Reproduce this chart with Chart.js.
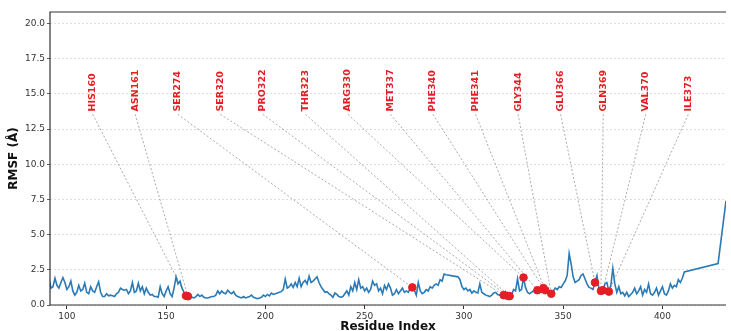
<!DOCTYPE html>
<html>
<head>
<meta charset="utf-8">
<script src="https://cdn.jsdelivr.net/npm/chart.js@4.4.1/dist/chart.umd.min.js"></script>
<style>
  html, body { margin: 0; padding: 0; background: #fff; overflow: hidden; }
  canvas { display: block; }
</style>
</head>
<body>
<canvas id="rmsfChart" width="731" height="338"></canvas>
<script>
// residue numbers (gaps at 292-296 and 412-427 are missing in the trace)
const residues = [
  91,92,93,94,95,96,97,98,99,100,101,102,103,104,105,106,107,108,109,110,
  111,112,113,114,115,116,117,118,119,120,121,122,123,124,125,126,127,128,129,130,
  131,132,133,134,135,136,137,138,139,140,141,142,143,144,145,146,147,148,149,150,
  151,152,153,154,155,156,157,158,159,160,161,162,163,164,165,166,167,168,169,170,
  171,172,173,174,175,176,177,178,179,180,181,182,183,184,185,186,187,188,189,190,
  191,192,193,194,195,196,197,198,199,200,201,202,203,204,205,206,207,208,209,210,
  211,212,213,214,215,216,217,218,219,220,221,222,223,224,225,226,227,228,229,230,
  231,232,233,234,235,236,237,238,239,240,241,242,243,244,245,246,247,248,249,250,
  251,252,253,254,255,256,257,258,259,260,261,262,263,264,265,266,267,268,269,270,
  271,272,273,274,275,276,277,278,279,280,281,282,283,284,285,286,287,288,289,290,
  291,297,298,299,300,301,302,303,304,305,306,307,308,309,310,
  311,312,313,314,315,316,317,318,319,320,321,322,323,324,325,326,327,328,329,330,
  331,332,333,334,335,336,337,338,339,340,341,342,343,344,345,346,347,348,349,350,
  351,352,353,354,355,356,357,358,359,360,361,362,363,364,365,366,367,368,369,370,
  371,372,373,374,375,376,377,378,379,380,381,382,383,384,385,386,387,388,389,390,
  391,392,393,394,395,396,397,398,399,400,401,402,403,404,405,406,407,408,409,410,
  411,428,432
];

const rmsf = [
  1.9,1.2,1.3,1.9,1.4,1.2,1.6,1.95,1.6,1.1, 1.3,1.7,1.0,0.7,0.9,1.4,1.0,1.1,1.55,0.9,
  0.8,1.3,1.0,0.9,1.3,1.65,0.9,0.6,0.6,0.8, 0.65,0.7,0.65,0.6,0.8,0.9,1.2,1.1,1.05,1.1,
  0.8,1.0,1.6,0.9,1.0,1.55,1.0,1.3,0.8,1.2, 0.9,0.7,0.75,0.6,0.6,0.55,1.3,0.8,0.6,1.0,
  1.3,0.8,0.6,1.2,2.0,1.5,1.7,1.2,0.9,0.65, 0.62,0.7,0.55,0.5,0.6,0.75,0.6,0.7,0.55,0.5,
  0.5,0.55,0.6,0.6,0.7,1.0,0.8,1.0,0.85,0.8, 1.05,0.9,0.8,0.95,0.7,0.6,0.55,0.5,0.6,0.5,
  0.55,0.6,0.7,0.55,0.5,0.45,0.5,0.55,0.7,0.6, 0.75,0.65,0.85,0.75,0.8,0.85,0.9,0.95,1.1,1.85,
  1.2,1.3,1.5,1.25,1.6,1.3,1.9,1.3,1.6,1.75, 1.5,2.05,1.6,1.7,1.85,2.0,1.6,1.3,1.1,0.9,
  0.95,0.8,0.7,0.55,0.85,0.75,0.6,0.55,0.6,0.8, 1.0,0.7,1.3,1.0,1.6,1.1,1.8,1.2,1.3,1.0,
  1.2,0.9,1.1,1.7,1.4,1.5,1.0,1.2,0.8,1.4, 1.1,1.5,1.2,0.7,0.8,1.1,0.8,1.0,1.2,0.9,
  1.0,0.9,1.2,1.25,1.05,0.7,1.6,1.0,0.8,0.9, 1.1,1.0,1.3,1.2,1.4,1.5,1.4,1.8,1.7,2.2,
  2.15,2.0,1.8,1.3,1.1,1.2,1.0,1.1,0.85,1.0,0.9,0.85,1.5,0.9,0.8,
  0.7,0.65,0.6,0.7,0.85,0.9,0.75,0.7,0.75,0.7, 0.95,0.65,0.63,0.7,1.1,1.0,1.85,1.0,1.1,1.95,
  1.25,0.9,0.8,0.9,1.0,0.85,1.05,1.0,0.9,1.2, 1.05,1.1,0.9,0.8,1.0,1.2,1.1,1.3,1.25,1.5,
  1.7,2.1,3.65,2.9,2.0,1.6,1.7,1.8,2.1,2.2, 1.85,1.5,1.25,1.2,1.1,1.6,2.1,1.15,1.0,1.05,
  1.5,1.6,0.95,1.4,2.6,1.5,0.9,1.3,0.8,0.9, 0.65,0.9,0.6,0.75,0.9,1.2,0.8,1.0,1.3,0.7,
  1.1,0.9,1.5,0.8,0.7,0.9,1.2,0.7,1.0,1.3, 0.8,0.7,1.0,1.5,1.2,1.4,1.3,1.8,1.6,1.9,
  2.35,2.95,7.4
];

// highlighted binding-site residues
const siteNames = ['HIS160','ASN161','SER274','SER320','PRO322','THR323','ARG330','MET337',
                   'PHE340','PHE341','GLY344','GLU366','GLN369','VAL370','ILE373'];
const siteResidues = [160,161,274,320,322,323,330,337,340,341,344,366,369,370,373];

const xTicks = [100,150,200,250,300,350,400];
const yTicks = [0,2.5,5,7.5,10,12.5,15,17.5,20];

// build the points
const linePoints = residues.map((r, i) => ({ x: r, y: rmsf[i] }));
const sitePoints = siteResidues.map(r => ({ x: r, y: rmsf[residues.indexOf(r)] }));

// label anchors spread evenly above the trace
const labelFirst = 113, labelLast = 413, labelY = 13.75, leaderTop = 13.55;
const labelXs = siteNames.map((n, i) => labelFirst + i * (labelLast - labelFirst) / (siteNames.length - 1));

const leaderSets = sitePoints.map((p, i) => ({
  type: 'line',
  data: [{ x: labelXs[i], y: leaderTop }, p],
  borderColor: 'rgba(105,105,105,0.7)',
  borderWidth: 0.8,
  borderDash: [2, 2],
  pointRadius: 0,
  fill: false,
  order: 3
}));

const frame = {
  id: 'frame',
  afterDraw(chart) {
    const { ctx, chartArea: a } = chart;
    ctx.save();
    ctx.strokeStyle = '#333';
    ctx.lineWidth = 1.2;
    ctx.beginPath();
    ctx.moveTo(a.right, a.top);
    ctx.lineTo(a.left, a.top);
    ctx.lineTo(a.left, a.bottom);
    ctx.lineTo(a.right, a.bottom);
    ctx.stroke();
    ctx.restore();
  }
};

const siteLabels = {
  id: 'siteLabels',
  afterDatasetsDraw(chart) {
    const { ctx, scales } = chart;
    ctx.save();
    ctx.fillStyle = 'rgb(228,30,36)';
    ctx.font = 'bold 9.5px "DejaVu Sans"';
    ctx.textAlign = 'left';
    ctx.textBaseline = 'middle';
    siteNames.forEach((name, i) => {
      const px = scales.x.getPixelForValue(labelXs[i]);
      const py = scales.y.getPixelForValue(labelY);
      ctx.save();
      ctx.translate(px, py);
      ctx.rotate(-Math.PI / 2);
      ctx.fillText(name, 0, 0);
      ctx.restore();
    });
    ctx.restore();
  }
};

const ctx = document.getElementById('rmsfChart').getContext('2d');
new Chart(ctx, {
  type: 'line',
  data: {
    datasets: [
      {
        label: 'Sites',
        type: 'scatter',
        data: sitePoints,
        backgroundColor: 'rgb(228,30,36)',
        borderColor: 'rgb(228,30,36)',
        pointRadius: 3.8,
        order: 1
      },
      {
        label: 'RMSF',
        data: linePoints,
        borderColor: '#2a7ab5',
        borderWidth: 1.6,
        pointRadius: 0,
        tension: 0,
        fill: false,
        order: 2
      },
      ...leaderSets
    ]
  },
  options: {
    responsive: false,
    animation: false,
    devicePixelRatio: 1,
    layout: { padding: { top: 12, right: 0, left: 0, bottom: 0 } },
    plugins: { legend: { display: false }, tooltip: { enabled: false } },
    scales: {
      x: {
        type: 'linear',
        min: 91.5,
        max: 432,
        afterBuildTicks: s => { s.ticks = xTicks.map(v => ({ value: v })); },
        afterFit: s => { s.height = 33; },
        grid: { drawOnChartArea: false, drawTicks: true, tickLength: 4, tickColor: '#333' },
        border: { display: false },
        ticks: { color: '#333', padding: 2, maxRotation: 0, font: { family: 'DejaVu Sans', size: 9 } },
        title: {
          display: true,
          text: 'Residue Index',
          color: '#111',
          padding: { top: 0, bottom: 4 },
          font: { family: 'DejaVu Sans', size: 12, weight: 'bold' }
        }
      },
      y: {
        min: 0,
        max: 20.82,
        afterBuildTicks: s => { s.ticks = yTicks.map(v => ({ value: v })); },
        afterFit: s => { s.width = 50; },
        grid: { color: '#d4d4d4', lineWidth: 0.8, tickLength: 3, tickColor: '#333', tickBorderDash: [] },
        border: { display: false, dash: [2, 2] },
        ticks: {
          color: '#333',
          padding: 2,
          font: { family: 'DejaVu Sans', size: 9 },
          callback: v => v.toFixed(1)
        },
        title: {
          display: true,
          text: 'RMSF (Å)',
          color: '#111',
          padding: { top: 7, bottom: 0 },
          font: { family: 'DejaVu Sans', size: 12, weight: 'bold' }
        }
      }
    }
  },
  plugins: [frame, siteLabels]
});
</script>
</body>
</html>
